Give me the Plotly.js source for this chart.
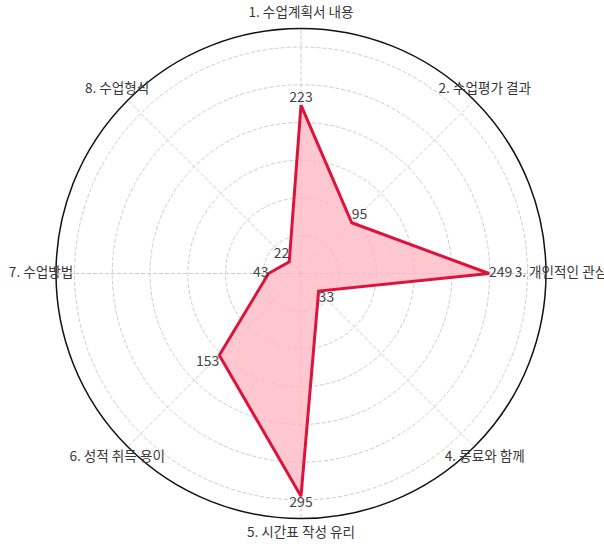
<!DOCTYPE html>
<html>
<head>
<meta charset="utf-8">
<script src="https://cdn.plot.ly/plotly-3.0.1.min.js"></script>
<style>html,body{margin:0;padding:0;background:#fff;}#chart{width:604px;height:544px;}</style>
</head>
<body>
<div id="chart"></div>
<script>
const categories = ["1. 수업계획서 내용", "2. 수업평가 결과", "3. 개인적인 관심", "4. 동료와 함께", "5. 시간표 작성 유리", "6. 성적 취득 용이", "7. 수업방법", "8. 수업형식"];
const values = [223, 95, 249, 33, 295, 153, 43, 22];
const valuePositions = ["top center", "top right", "middle right", "bottom right", "bottom center", "bottom left", "middle left", "top left"];

const W = 604, H = 544;
const cx = 301, cy = 273.5, R = 245;
const rMax = Math.max(...values) * 1.1;
const labelR = rMax * 1.061;
const rMax2 = labelR * 1.01;
const R2 = R * rMax2 / rMax;
const FONT = "'Noto Sans CJK KR', 'Noto Sans', sans-serif";

function dom(rad) {
  return {x: [(cx - rad) / W, (cx + rad) / W], y: [(H - cy - rad) / H, (H - cy + rad) / H]};
}

const closedTheta = categories.concat([categories[0]]);
const closedR = values.concat([values[0]]);

const traces = [
  {
    type: 'scatterpolar',
    r: closedR,
    theta: closedTheta,
    mode: 'lines',
    fill: 'toself',
    fillcolor: 'rgba(255,182,193,0.75)',
    line: {color: '#DC143C', width: 3},
    hoverinfo: 'skip',
    showlegend: false
  },
  {
    type: 'scatterpolar',
    r: values,
    theta: categories,
    mode: 'text',
    text: values.map(String),
    textposition: valuePositions,
    textfont: {family: FONT, size: 14, color: '#444'},
    cliponaxis: false,
    showlegend: false
  },
  {
    type: 'scatterpolar',
    subplot: 'polar2',
    r: categories.map(() => labelR),
    theta: categories,
    mode: 'text',
    text: categories,
    textposition: 'middle center',
    textfont: {family: FONT, size: 13.6, color: '#383838'},
    cliponaxis: false,
    showlegend: false
  }
];

const hiddenAxes = {
  bgcolor: 'rgba(0,0,0,0)',
  radialaxis: {range: [0, rMax2], visible: false, showgrid: false},
  angularaxis: {type: 'category', categoryarray: categories, direction: 'clockwise', rotation: 90,
                visible: false, showgrid: false, showline: false, showticklabels: false, ticks: ''}
};

const layout = {
  width: W,
  height: H,
  margin: {l: 0, r: 0, t: 0, b: 0},
  paper_bgcolor: '#fff',
  showlegend: false,
  font: {family: FONT},
  polar2: Object.assign({domain: dom(R2)}, hiddenAxes),
  polar: {
    domain: dom(R),
    bgcolor: '#fff',
    radialaxis: {
      range: [0, rMax],
      dtick: 50,
      showticklabels: false,
      ticks: '',
      showline: false,
      gridcolor: '#cccccc',
      griddash: '4px,2px',
      gridwidth: 1
    },
    angularaxis: {
      type: 'category',
      categoryarray: categories,
      direction: 'clockwise',
      rotation: 90,
      showticklabels: false,
      ticks: '',
      showline: true,
      linecolor: '#111',
      linewidth: 1.5,
      gridcolor: '#cccccc',
      griddash: '4px,2px',
      gridwidth: 1
    }
  }
};

Plotly.newPlot('chart', traces, layout, {displayModeBar: false, staticPlot: true});
</script>
</body>
</html>
